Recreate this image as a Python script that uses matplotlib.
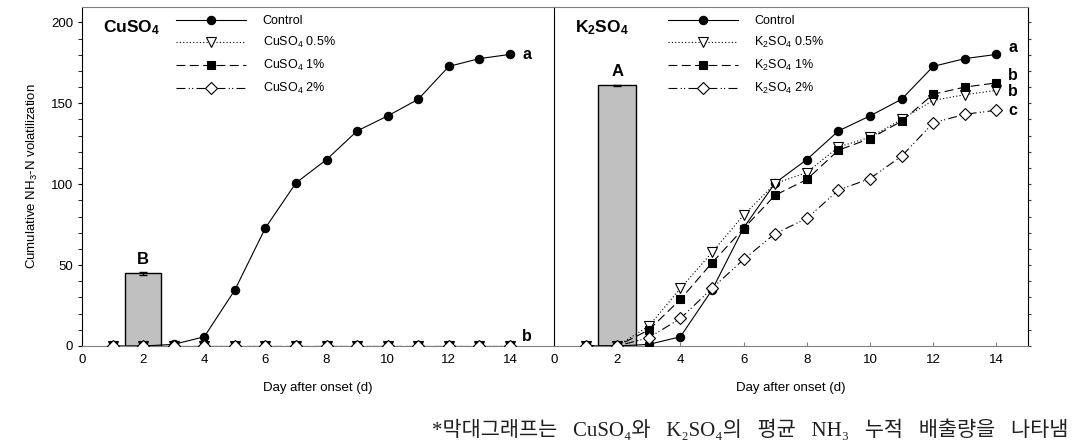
import numpy as np
import matplotlib
matplotlib.use("Agg")
import matplotlib.pyplot as plt
from matplotlib.ticker import MultipleLocator

plt.rcParams['font.family'] = ['Liberation Sans', 'DejaVu Sans']
plt.rcParams['mathtext.fontset'] = 'custom'
plt.rcParams['mathtext.rm'] = 'Liberation Sans'
plt.rcParams['mathtext.it'] = 'Liberation Sans:italic'
plt.rcParams['mathtext.bf'] = 'Liberation Sans:bold'

# Days after onset
days = np.arange(1, 15)

# Control is shared by both panels
control = [0, 0, 1, 5.7, 34.6, 73, 100.8, 115.2, 132.9, 142.2, 152.5, 172.8, 177.6, 180.2]

# CuSO4 treatments: no volatilization
cu_05 = [0] * 14
cu_1 = [0] * 14
cu_2 = [0] * 14

# K2SO4 treatments
k_05 = [0, 0, 12.3, 35.6, 57.8, 80.9, 100.4, 107.2, 123, 129, 140, 151.8, 155.3, 158]
k_1 = [0, 0, 9.9, 28.8, 51.4, 72.6, 93.2, 102.9, 121, 128.2, 138.9, 155.6, 160, 162.6]
k_2 = [0, 0, 5.1, 17, 35.6, 53.5, 69.5, 78.8, 96.3, 103.5, 117.3, 137.9, 143.2, 145.7]

# mean cumulative NH3 (bars)
bar_cu, bar_cu_err, bar_cu_lab = 45, 1.0, 'B'
bar_k, bar_k_err, bar_k_lab = 161, 0.6, 'A'

# significance letters (x, y, text)
letters_cu = [(14.4, 180, 'a'), (14.4, 6, 'b')]
letters_k = [(14.37, 184.5, 'a'), (14.37, 167, 'b'), (14.37, 157.5, 'b'), (14.37, 145.7, 'c')]

gap = '   '
note = gap.join(['*막대그래프는', 'CuSO₄와', 'K₂SO₄의', '평균', 'NH₃', '누적', '배출량을', '나타냄'])

fig = plt.figure(figsize=(10.73, 4.41), dpi=100)
ax1 = fig.add_axes([82 / 1073, 1 - 346 / 441, 472 / 1073, 339 / 441])
ax2 = fig.add_axes([554 / 1073, 1 - 346 / 441, 474 / 1073, 339 / 441])

styles = [
    dict(ls='-', marker='o', mfc='black', ms=6),
    dict(ls=(0, (1, 2)), marker='v', mfc='white', ms=6.5),
    dict(ls=(0, (8, 4)), marker='s', mfc='black', ms=6),
    dict(ls=(0, (8, 3, 1, 2, 1, 3)), marker='D', mfc='white', ms=6),
]


def panel(ax, series, labels, bar, err, blab, title, letters, xmax, leg_x):
    ax.bar([2], [bar], width=1.2, color='#c0c0c0', edgecolor='black', lw=1, zorder=1)
    ax.errorbar([2], [bar], yerr=[err], color='black', capsize=3, lw=0.8, zorder=2)
    ax.text(2, bar + 4, blab, ha='center', va='bottom', fontsize=12, fontweight='bold')
    for y, lab, st in zip(series, labels, styles):
        ax.plot(days, y, color='black', lw=0.8, mec='black', mew=0.8, label=lab, zorder=3, **st)
    for x, y, t in letters:
        ax.text(x, y, t, ha='left', va='center', fontsize=11.5, fontweight='bold')
    ax.text(0.045, 0.94, title, transform=ax.transAxes, fontsize=12.5, fontweight='bold',
            ha='left', va='center')
    ax.legend(loc='upper left', bbox_to_anchor=(leg_x, 0.975), frameon=False, fontsize=9,
              handlelength=5.6, handletextpad=1.3, labelspacing=0.62, borderpad=0,
              borderaxespad=0)
    ax.set_xlim(0, xmax)
    ax.set_ylim(0, 209.5)
    ax.set_xticks(np.arange(0, 15, 2))
    ax.tick_params(axis='x', direction='in', length=3, color='#808080', labelsize=9.5, pad=6)
    ax.set_xlabel('Day after onset (d)', fontsize=9.5, labelpad=11)
    for s in ['top', 'bottom']:
        ax.spines[s].set_color('#808080')
    for s in ['left', 'right']:
        ax.spines[s].set_color('black')


panel(ax1, [control, cu_05, cu_1, cu_2],
      ['Control', r'CuSO$_4$ 0.5%', r'CuSO$_4$ 1%', r'CuSO$_4$ 2%'],
      bar_cu, bar_cu_err, bar_cu_lab, r'CuSO$_\mathbf{4}$', letters_cu, 15.44, 0.2)
panel(ax2, [control, k_05, k_1, k_2],
      ['Control', r'K$_2$SO$_4$ 0.5%', r'K$_2$SO$_4$ 1%', r'K$_2$SO$_4$ 2%'],
      bar_k, bar_k_err, bar_k_lab, r'K$_\mathbf{2}$SO$_\mathbf{4}$', letters_k, 15.0, 0.24)

ax1.spines['right'].set_visible(False)
ax1.set_yticks(np.arange(0, 201, 50))
ax1.yaxis.set_minor_locator(MultipleLocator(10))
ax1.tick_params(axis='y', which='both', direction='out', length=3, labelsize=9.5)
ax1.set_ylabel(r'Cumulative NH$_3$-N volatilization', fontsize=9.5, labelpad=8)

ax2.yaxis.set_major_locator(MultipleLocator(10))
ax2.yaxis.tick_right()
ax2.tick_params(axis='y', which='both', direction='out', length=2.5, labelright=False,
                labelleft=False, color='#404040')

fig.text(1068 / 1073, 1 - 430 / 441, note,
         family=['Liberation Serif', 'Noto Sans CJK KR', 'DejaVu Sans'], fontsize=15,
         ha='right', va='center', color='#202020')

fig.savefig('out.png', dpi=100)
